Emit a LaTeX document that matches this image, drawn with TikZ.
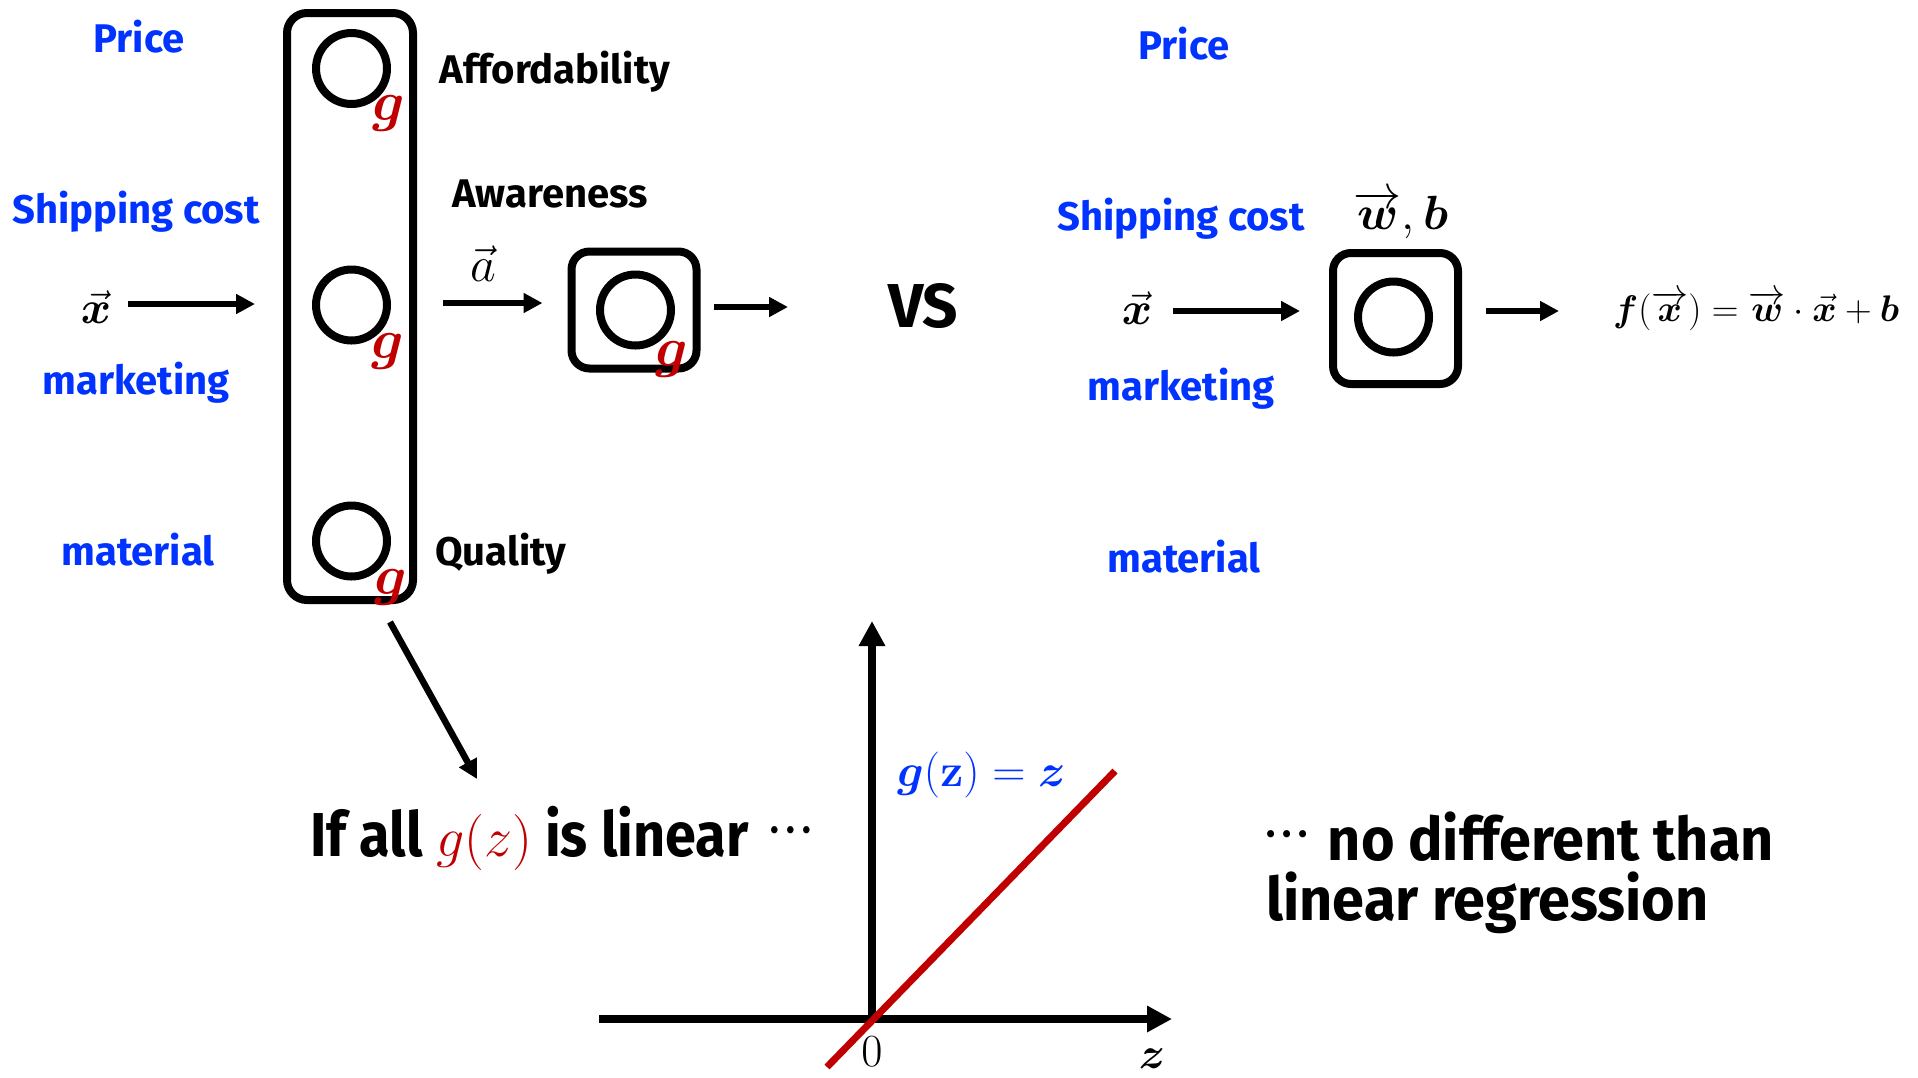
\RequirePackage{fix-cm}
\documentclass[tikz,border=0pt]{standalone}
\usepackage{amsmath}
\usepackage{bm}
\usepackage[no-math]{fontspec}
\setmainfont{Fira Sans}
\newfontfamily\bigfont{Fira Sans}[FakeStretch=0.9]
\newfontfamily\concfont{Fira Sans}[FakeStretch=0.96]
\newcommand{\mydots}{{\fontsize{40}{40}\selectfont\raisebox{14pt}{·\hspace{7pt}·\hspace{7pt}·}}}
\usetikzlibrary{arrows.meta}
\definecolor{lblblue}{RGB}{0,51,255}
\definecolor{gred}{RGB}{192,0,0}
\begin{document}
\begin{tikzpicture}[x=1pt,y=-1pt,
  lbl/.style={font=\fontsize{40}{40}\selectfont\bfseries, inner sep=0pt, anchor=base},
  blbl/.style={lbl, text=lblblue},
  unit/.style={draw, line width=8pt, rounded corners=18pt, minimum width=125pt, inner sep=0pt},
  neuron/.style={draw, circle, line width=8pt, minimum size=71pt, inner sep=0pt},
  gl/.style={text=gred, inner sep=0pt, font=\fontsize{56}{56}\selectfont},
  arr/.style={line width=6.5pt, -{Triangle[length=19pt,width=19pt]}},
  axis/.style={line width=8pt, -{Triangle[length=25pt,width=25pt]}},
  mth/.style={inner sep=0pt},
  big/.style={inner sep=0pt, anchor=base west, font=\bigfont\fontsize{62}{62}\selectfont\bfseries},
  conc/.style={inner sep=0pt, anchor=base west, font=\concfont\fontsize{60}{60}\selectfont\bfseries}
]
\fill[white] (0,0) rectangle (1918,1077);
\useasboundingbox (0,0) rectangle (1918,1077);

% left network
\node[unit, minimum width=126pt, minimum height=587pt, rounded corners=20pt] (layer) at (350,306.5) {};
\node[neuron] (n1) at (351.5,68.5) {};
\node[neuron] (n2) at (351.5,305) {};
\node[neuron] (n3) at (351.5,541) {};
\node[gl] (g1) at (389,113) {$\bm{g}$};
\node[gl] (g2) at (388,351) {$\bm{g}$};
\node[gl] (g3) at (391,587) {$\bm{g}$};

\node[unit, minimum height=117pt] (out) at (634,310) {};
\node[neuron] (n4) at (635.5,310) {};
\node[gl] (g4) at (672,359) {$\bm{g}$};

\node[blbl] (price) at (139,52) {Price};
\node[blbl] (ship) at (136,223) {Shipping cost};
\node[blbl] (mkt) at (136,394) {marketing};
\node[blbl] (mat) at (138,565) {material};
\node[lbl] (aff) at (555,83) {Affordability};
\node[lbl] (awa) at (550,207) {Awareness};
\node[lbl, anchor=base west] (qual) at (435,565) {Quality};

\node[mth, font=\fontsize{46}{46}\selectfont] (xv) at (96,307) {$\vec{\bm{x}}$};
\node[mth, font=\fontsize{50}{50}\selectfont] (av) at (483,264) {$\vec{a}$};

\coordinate (s1) at (128,304);
\draw[arr, shorten >=28pt] (s1) -- (s1 -| layer.west);
\coordinate (s2) at (443,303);
\draw[arr, shorten >=25pt] (s2) -- (s2 -| out.west);
\coordinate (e3) at (788,307);
\draw[arr, shorten <=13pt] (out.east |- e3) -- (e3);

\node[inner sep=0pt, anchor=base, font=\fontsize{62}{62}\selectfont\bfseries] (vs) at (923,327) {VS};

% right network
\node[unit, minimum height=131pt] (lin) at (1395.5,318.5) {};
\node[neuron] (n5) at (1393.5,317) {};
\node[blbl] (price2) at (1184,59) {Price};
\node[blbl] (ship2) at (1181,230) {Shipping cost};
\node[blbl] (mkt2) at (1181,400) {marketing};
\node[blbl] (mat2) at (1184,572) {material};
\node[mth, font=\fontsize{46}{46}\selectfont] (xv2) at (1137,308) {$\vec{\bm{x}}$};
\node[mth, font=\fontsize{48}{48}\selectfont] (wb) at (1401,215) {$\overrightarrow{\bm{w}},\bm{b}$};
\coordinate (s4) at (1173,311);
\draw[arr, shorten >=29pt] (s4) -- (s4 -| lin.west);
\coordinate (e5) at (1559,311);
\draw[arr, shorten <=24pt] (lin.east |- e5) -- (e5);
\node[mth, anchor=west, font=\fontsize{37}{37}\selectfont] (fx) at (1613,311) {$\bm{f}(\overrightarrow{\bm{x}}) = \overrightarrow{\bm{w}}\cdot\vec{\bm{x}}+\bm{b}$};

% bottom
\coordinate (d0) at (390,622);
\coordinate (d1) at (477,779);
\draw[arr] (d0) -- (d1);
\node[big] (cond) at (310,856) {If all {\color{gred}\fontsize{56}{56}\selectfont$g(z)$} is linear\hspace{22pt}\mydots};

\coordinate (O) at (872,1019);
\coordinate (xs) at (599,1019);
\coordinate (xe) at (1172,1019);
\coordinate (ys) at (872,1023);
\coordinate (ye) at (872,621);
\draw[axis] (xs) -- (xe);
\draw[axis] (ys) -- (ye);
\coordinate (r0) at (827,1067);
\coordinate (r1) at (1115,771);
\draw[gred, line width=7pt] (r0) -- (r1);
\node[mth, anchor=west, text=lblblue, font=\fontsize{46}{46}\selectfont] (gz) at (897,775) {$\bm{g}(\mathbf{z}) = \bm{z}$};
\node[mth, font=\fontsize{46}{46}\selectfont] (zero) at (872,1052) {$0$};
\node[mth, font=\fontsize{44}{44}\selectfont] (zl) at (1152,1059) {$\bm{z}$};

\node[conc] (conc1) at (1266,860) {\mydots\hspace{20pt}no different than};
\node[conc] (conc2) at (1266,920) {linear regression};
\end{tikzpicture}
\end{document}
